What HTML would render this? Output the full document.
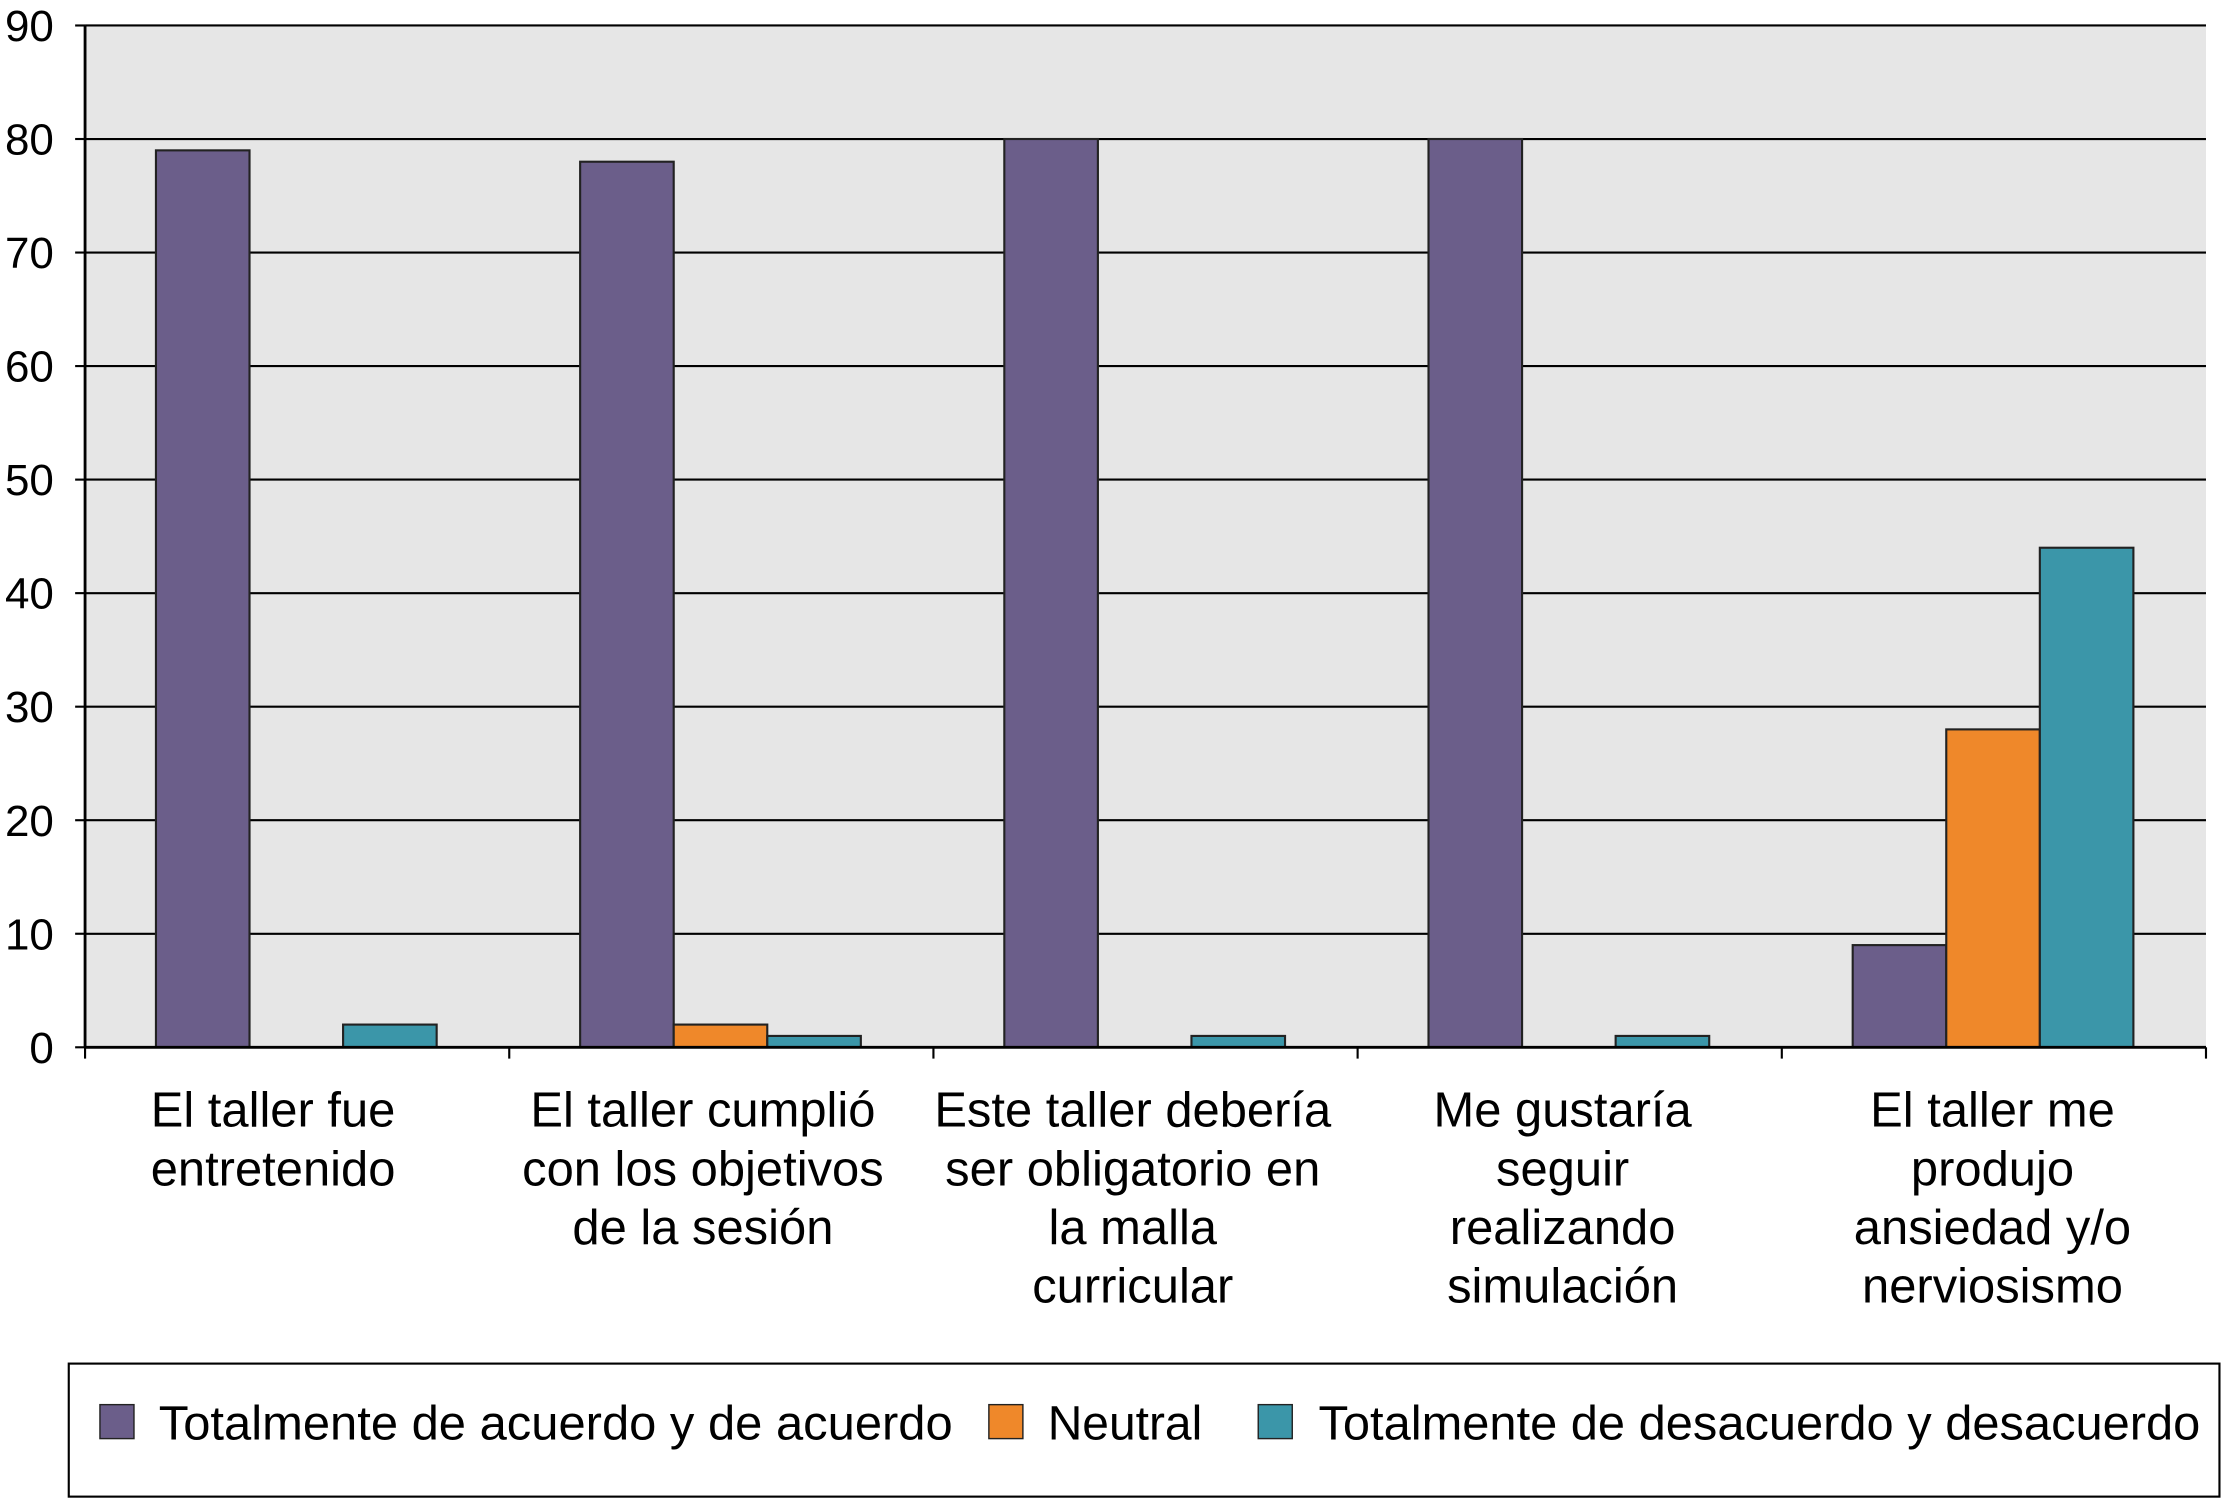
<!DOCTYPE html>
<html><head><meta charset="utf-8"><style>
html,body{margin:0;padding:0;background:#fff;}
svg{display:block;font-family:"Liberation Sans",sans-serif;}
</style></head><body>
<svg id="chart" width="2223" height="1503" viewBox="0 0 1568 1062" preserveAspectRatio="none">
<rect x="60" y="18" width="1496" height="722" fill="#e6e6e6"/>
<g id="grid"></g><g id="bars"></g><g id="axes"></g><g id="labels"></g>
<g>
<rect x="48.5" y="963.5" width="1517" height="94" fill="#fff" stroke="#000" stroke-width="1.5"/>
<g><rect x="70.5" y="992.5" width="24" height="24" fill="#6b5e8a" stroke="#222"/><text x="112" y="1017" font-size="34" textLength="560" lengthAdjust="spacingAndGlyphs">Totalmente de acuerdo y de acuerdo</text></g>
<g><rect x="697.5" y="992.5" width="24" height="24" fill="#ef882a" stroke="#222"/><text x="739" y="1017" font-size="34" textLength="109" lengthAdjust="spacingAndGlyphs">Neutral</text></g>
<g><rect x="887.5" y="992.5" width="24" height="24" fill="#3b96a9" stroke="#222"/><text x="930" y="1017" font-size="34" textLength="622" lengthAdjust="spacingAndGlyphs">Totalmente de desacuerdo y desacuerdo</text></g>
</g>
</svg>
<script>
const categories=[["El taller fue","entretenido"],["El taller cumplió","con los objetivos","de la sesión"],["Este taller debería","ser obligatorio en","la malla","curricular"],["Me gustaría","seguir","realizando","simulación"],["El taller me","produjo","ansiedad y/o","nerviosismo"]];
const agree=[79,78,80,80,9];
const neutral=[0,2,0,0,28];
const disagree=[2,1,1,1,44];
const yTicks=[0,10,20,30,40,50,60,70,80,90];
const NS="http://www.w3.org/2000/svg";
const L=60,R=1556,T=18,B=740,yMax=90;
const y=v=>B-(B-T)*v/yMax;
const cw=(R-L)/categories.length;
function el(tag,attrs,parent){const e=document.createElementNS(NS,tag);for(const k in attrs)e.setAttribute(k,attrs[k]);parent.appendChild(e);return e;}
const grid=document.getElementById('grid'),bars=document.getElementById('bars'),axes=document.getElementById('axes'),labels=document.getElementById('labels');
yTicks.forEach(t=>{
 if(t>0){const g=el('line',{x1:L,x2:R,y1:y(t),y2:y(t),stroke:'#000','stroke-width':1.5},grid);
 
 }
 const tk=el('line',{x1:L-7,x2:L,y1:y(t),y2:y(t),stroke:'#000','stroke-width':1.5},axes);
 
 
 const tx=el('text',{x:L-22,y:y(t)+11,'font-size':31,'text-anchor':'end'},labels);
 tx.textContent=t;
 
 
});
const series=[[agree,'#6b5e8a','agree'],[neutral,'#ef882a','neutral'],[disagree,'#3b96a9','disagree']];
const bw=66,off=50;
categories.forEach((c,i)=>{
 const x0=L+cw*i;
 series.forEach(([vals,col,nm],s)=>{
  if(vals[i]<=0)return;
  const r=el('rect',{x:x0+off+s*bw,y:y(vals[i]),width:bw,height:B-y(vals[i]),fill:col,stroke:'#222','stroke-width':1.5},bars);
  
  
 });
 const tx=el('text',{'font-size':34.5,'text-anchor':'middle'},labels);
 
 
 c.forEach((ln,j)=>{const ts=el('tspan',{x:x0+cw/2-17+4*i,y:796+j*41.5},tx);ts.textContent=ln;});
});
for(let i=0;i<=categories.length;i++){
 const t=el('line',{x1:L+cw*i,x2:L+cw*i,y1:B,y2:B+8,stroke:'#000','stroke-width':1.5},axes);
 
 
}
const ax=el('line',{x1:L,x2:L,y1:T,y2:B,stroke:'#000','stroke-width':2},axes);


const bx=el('line',{x1:L,x2:R,y1:B,y2:B,stroke:'#000','stroke-width':2},axes);


</script>
</body></html>
